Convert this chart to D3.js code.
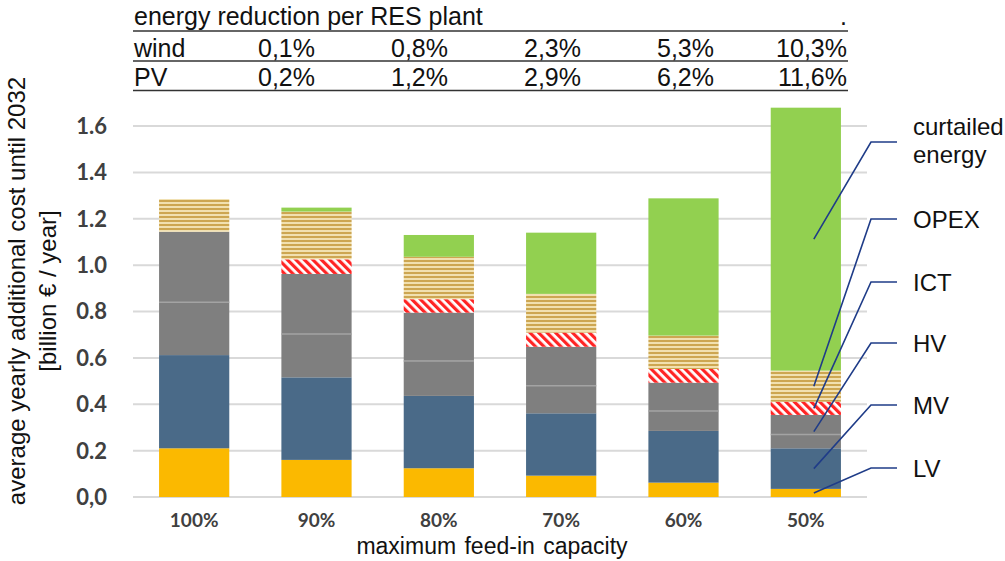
<!DOCTYPE html>
<html><head><meta charset="utf-8">
<script src="https://cdn.jsdelivr.net/npm/d3@7/dist/d3.min.js"></script>
<style>
html,body{margin:0;padding:0;background:#fff;}
svg{display:block;}
</style></head>
<body>
<svg id="chart" width="1005" height="561"></svg>
<script>
// ---- data ----
const categories = ["100%","90%","80%","70%","60%","50%"];
const LV   = [0.210, 0.160, 0.124, 0.092, 0.062, 0.035];
const MV   = [0.402, 0.356, 0.312, 0.269, 0.223, 0.175];
const HV_a = [0.228, 0.187, 0.151, 0.119, 0.086, 0.060];
const HV_b = [0.304, 0.259, 0.208, 0.168, 0.122, 0.084];
const ICT  = [0.000, 0.063, 0.058, 0.061, 0.059, 0.057];
const OPEX = [0.141, 0.206, 0.183, 0.167, 0.144, 0.134];
const curtailed = [0.000, 0.017, 0.094, 0.264, 0.592, 1.134];

const yTickValues = [0, 0.2, 0.4, 0.6, 0.8, 1.0, 1.2, 1.4, 1.6];
const yTickLabels = ["0,0","0.2","0.4","0.6","0.8","1.0","1.2","1.4","1.6"];

const tableHeader = "energy reduction per RES plant";
const tableRows = ["wind", "PV"];
const windReduction = ["0,1%","0,8%","2,3%","5,3%","10,3%"];
const pvReduction   = ["0,2%","1,2%","2,9%","6,2%","11,6%"];

const legendLabels = [["curtailed","energy"],["OPEX"],["ICT"],["HV"],["MV"],["LV"]];

// ---- build ----
const svg = d3.select("#chart");
const W = 1005, H = 561;
svg.append("rect").attr("width", W).attr("height", H).attr("fill", "#fff");

const defs = svg.append("defs");
// OPEX horizontal stripes
const pO = defs.append("pattern").attr("id","opex").attr("patternUnits","userSpaceOnUse")
  .attr("width", 8).attr("height", 4);
pO.append("rect").attr("width",8).attr("height",4).attr("fill","#f1e0b0");
pO.append("rect").attr("width",8).attr("height",2).attr("fill","#cda651");
// ICT red diagonal hatch
const pI = defs.append("pattern").attr("id","ict").attr("patternUnits","userSpaceOnUse")
  .attr("width", 6).attr("height", 6).attr("patternTransform","rotate(-45)");
pI.append("rect").attr("width",6).attr("height",6).attr("fill","#ffffff");
pI.append("rect").attr("width",3.2).attr("height",6).attr("fill","#ff2424");

const seriesKeys = ["LV","MV","HV_a","HV_b","ICT","OPEX","curtailed"];
const seriesVals = {LV, MV, HV_a, HV_b, ICT, OPEX, curtailed};
const fills = {LV:"#fbb900", MV:"#4a6a88", HV_a:"#7f7f7f", HV_b:"#7f7f7f",
  ICT:"url(#ict)", OPEX:"url(#opex)", curtailed:"#92d050"};

const rows = categories.map((c,i) => {
  const o = {cat:c};
  seriesKeys.forEach(k => o[k] = seriesVals[k][i]);
  return o;
});
const stacked = d3.stack().keys(seriesKeys)(rows);

const x = d3.scaleBand().domain(categories).range([133, 867]).paddingInner(0.426).paddingOuter(0.213);
const y = d3.scaleLinear().domain([0, 1.6]).range([497, 126]);

// gridlines
svg.append("g").selectAll("line").data(yTickValues).join("line")
  .attr("x1", 133).attr("x2", 867)
  .attr("y1", d => y(d)).attr("y2", d => y(d))
  .attr("stroke", "#d9d9d9").attr("stroke-width", 2);

// y tick labels
svg.append("g").selectAll("text").data(yTickValues).join("text")
  .attr("x", 107).attr("y", d => y(d)).attr("dy", "0.36em")
  .attr("text-anchor", "end")
  .attr("font-family", "Lato, 'Open Sans', sans-serif").attr("font-size", 22).attr("font-weight", 700)
  .attr("fill", "#404040")
  .text((d,i) => yTickLabels[i]);

// bars
const gBars = svg.append("g");
stacked.forEach(s => {
  gBars.append("g").selectAll("rect").data(s).join("rect")
    .attr("x", d => x(d.data.cat))
    .attr("width", x.bandwidth())
    .attr("y", d => y(d[1]))
    .attr("height", d => Math.max(0, y(d[0]) - y(d[1])))
    .attr("fill", fills[s.key]);
});
// light separator inside HV (top of HV_a)
const hvA = stacked.find(s => s.key === "HV_a");
gBars.append("g").selectAll("line").data(hvA).join("line")
  .attr("x1", d => x(d.data.cat)).attr("x2", d => x(d.data.cat) + x.bandwidth())
  .attr("y1", d => y(d[1])).attr("y2", d => y(d[1]))
  .attr("stroke", "#a3a3a3").attr("stroke-width", 1.5);

// category labels
svg.append("g").selectAll("text").data(categories).join("text")
  .attr("x", d => x(d) + x.bandwidth()/2).attr("y", 527)
  .attr("text-anchor", "middle")
  .attr("font-family", "Lato, 'Open Sans', sans-serif").attr("font-size", 19).attr("font-weight", 700)
  .attr("fill", "#404040")
  .text(d => d);

// x axis title
svg.append("text").attr("x", 492).attr("y", 554).attr("text-anchor", "middle")
  .attr("font-family", "'Liberation Sans', Arial, sans-serif").attr("font-size", 23).attr("fill", "#111")
  .attr("word-spacing", 2)
  .text("maximum feed-in capacity");

// y axis title
const yt = svg.append("g").attr("transform", "translate(25,291) rotate(-90)");
yt.append("text").attr("x", 0).attr("y", 0).attr("text-anchor", "middle")
  .attr("font-family", "'Liberation Sans', Arial, sans-serif").attr("font-size", 24).attr("fill", "#111")
  .text("average yearly additional cost until 2032");
yt.append("text").attr("x", 0).attr("y", 31).attr("text-anchor", "middle")
  .attr("font-family", "'Liberation Sans', Arial, sans-serif").attr("font-size", 24).attr("fill", "#111")
  .text("[billion € / year]");

// table
const tFont = "'Liberation Sans', Arial, sans-serif";
const tbl = svg.append("g");
const rowBase = [25, 56.5, 86];
const rowLine = [31, 61, 90.5];
const colX = d3.scalePoint().domain(d3.range(windReduction.length)).range([315, 847]);
tbl.append("text").attr("x", 134).attr("y", rowBase[0])
  .attr("font-family", tFont).attr("font-size", 25).attr("fill", "#111").text(tableHeader);
tbl.append("text").attr("x", 847).attr("y", rowBase[0]).attr("text-anchor","end")
  .attr("font-family", tFont).attr("font-size", 25).attr("fill", "#111").text(".");
tableRows.forEach((r, ri) => {
  tbl.append("text").attr("x", 134).attr("y", rowBase[ri+1])
    .attr("font-family", tFont).attr("font-size", 25).attr("fill", "#111").text(r);
  const vals = ri === 0 ? windReduction : pvReduction;
  tbl.append("g").selectAll("text").data(vals).join("text")
    .attr("x", (d,i) => colX(i)).attr("y", rowBase[ri+1]).attr("text-anchor", "end")
    .attr("font-family", tFont).attr("font-size", 25).attr("fill", "#111").text(d => d);
});
tbl.selectAll("line.rl").data(rowLine).join("line").attr("class","rl")
  .attr("x1", 133).attr("x2", 848).attr("y1", d => d).attr("y2", d => d)
  .attr("stroke", "#333").attr("stroke-width", 1.5);

// legend with leader lines into last bar
const lastIdx = categories.length - 1;
const lastCat = categories[lastIdx];
const legendOrder = ["curtailed","OPEX","ICT","HV","MV","LV"];
const elbowY = [142, 219, 282, 343, 405, 468];
const segMid = key => {
  if (key === "HV") {
    const a = stacked.find(s => s.key === "HV_a")[lastIdx];
    const b = stacked.find(s => s.key === "HV_b")[lastIdx];
    return (a[0] + b[1]) / 2;
  }
  const s = stacked.find(s => s.key === key)[lastIdx];
  return (s[0] + s[1]) / 2;
};
const lg = svg.append("g");
legendOrder.forEach((k, i) => {
  const px = x(lastCat) + x.bandwidth()/2 + 8;
  const py = y(segMid(k));
  lg.append("polyline")
    .attr("points", `897,${elbowY[i]} 871,${elbowY[i]} ${px},${py}`)
    .attr("fill", "none").attr("stroke", "#1f3c88").attr("stroke-width", 1.6);
  const lines = legendLabels[i];
  lines.forEach((t, j) => {
    lg.append("text").attr("x", 913)
      .attr("y", (lines.length === 1 ? elbowY[i] + 8.5 : 135 + j*28))
      .attr("font-family", tFont).attr("font-size", 24).attr("fill", "#111").text(t);
  });
});
</script>
</body></html>
